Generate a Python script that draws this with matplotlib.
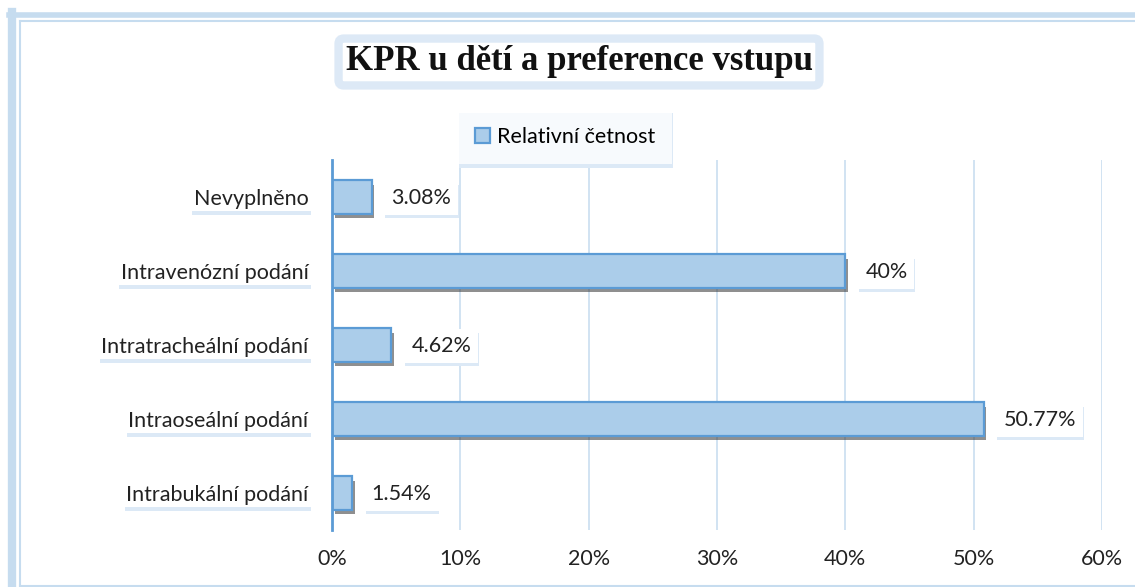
import numpy as np
import matplotlib.pyplot as plt
import matplotlib.patheffects as pe
from matplotlib.patches import Patch
from matplotlib.lines import Line2D
from matplotlib.ticker import FuncFormatter

categories = ["Intrabukální podání", "Intraoseální podání", "Intratracheální podání",
              "Intravenózní podání", "Nevyplněno"]
values = [1.54, 50.77, 4.62, 40.0, 3.08]
value_labels = ["1.54%", "50.77%", "4.62%", "40%", "3.08%"]
xticks = [0, 10, 20, 30, 40, 50, 60]

title = "KPR u dětí a preference vstupu"
series_name = "Relativní četnost"

bar_face = "#abcdea"
bar_edge = "#5b9bd5"
grid_col = "#c9def0"
frame_col = "#c6dcef"
shadow_blue = "#dce9f6"

plt.rcParams['font.family'] = ['Lato', 'DejaVu Sans']

W, H = 1135, 587
fig = plt.figure(figsize=(W / 100, H / 100), dpi=100)


def fx(px):
    return px / W


def fy(py):
    return 1 - py / H


# outer frame: thick band left/top, thin inner line left/top/bottom
fig.add_artist(Line2D([fx(12), fx(12)], [fy(12), 0], transform=fig.transFigure, color=frame_col, lw=6))
fig.add_artist(Line2D([fx(9), 1], [fy(15), fy(15)], transform=fig.transFigure, color=frame_col, lw=4))
fig.add_artist(Line2D([fx(20), fx(20)], [fy(21), fy(586)], transform=fig.transFigure, color=frame_col, lw=1.5))
fig.add_artist(Line2D([fx(20), 1], [fy(21), fy(21)], transform=fig.transFigure, color=frame_col, lw=1.5))
fig.add_artist(Line2D([fx(20), 1], [fy(586), fy(586)], transform=fig.transFigure, color=frame_col, lw=1.5))

ax = fig.add_axes([fx(332), fy(530), 770 / W, 370 / H])
y = np.arange(len(categories))
bars = ax.barh(y, values, height=0.45, color=bar_face, edgecolor=bar_edge, linewidth=1.6, zorder=3)
for b in bars:
    b.set_path_effects([pe.SimplePatchShadow(offset=(2, -3), shadow_rgbFace="#333333", alpha=0.55),
                        pe.Normal()])

ax.set_xlim(0, 60)
ax.set_ylim(-0.5, len(categories) - 0.5)
ax.set_xticks(xticks)
ax.xaxis.set_major_formatter(FuncFormatter(lambda v, p: f"{v:.0f}%"))
ax.set_yticks(y)
ax.set_yticklabels(categories)
ax.tick_params(axis="both", length=0, labelsize=15.5, colors="#222222")
ax.tick_params(axis="y", pad=17)
ax.tick_params(axis="x", pad=14)
ax.grid(axis="x", color=grid_col, linewidth=1.2, zorder=0)
for s in ["top", "right", "bottom"]:
    ax.spines[s].set_visible(False)
ax.spines["left"].set_color(bar_edge)
ax.spines["left"].set_linewidth(2)
ax.spines["left"].set_zorder(4)

for lbl in ax.get_yticklabels():
    lbl.set_bbox(dict(facecolor="white", edgecolor="none", pad=1.5))
    lbl.get_bbox_patch().set_path_effects([
        pe.SimplePatchShadow(offset=(0.5, -2.5), shadow_rgbFace=shadow_blue, alpha=1), pe.Normal()])

for yi, v, t in zip(y, values, value_labels):
    txt = ax.annotate(t, (v, yi), xytext=(20, -1), textcoords="offset pixels",
                      ha="left", va="center", fontsize=15.5, color="#222222", zorder=5,
                      bbox=dict(facecolor="white", edgecolor="none", pad=5))
    txt.get_bbox_patch().set_path_effects([
        pe.SimplePatchShadow(offset=(0.5, -2.5), shadow_rgbFace=shadow_blue, alpha=1), pe.Normal()])

fig.text(fx(579), fy(62), title, ha="center", va="center",
         fontsize=25, fontweight="bold", family=["Liberation Serif", "DejaVu Serif"], color="#111111",
         bbox=dict(boxstyle="round,pad=0.2,rounding_size=0.15", facecolor="white",
                   edgecolor="#dde9f6", linewidth=6))

handle = Patch(facecolor=bar_face, edgecolor=bar_edge, linewidth=1.6)
leg = fig.legend([handle], [series_name], loc="center", bbox_to_anchor=(fx(565), fy(137)),
                 fontsize=15.5, frameon=True, fancybox=False, handlelength=0.7, handleheight=0.7,
                 handletextpad=0.3, borderpad=0.8, borderaxespad=0)
leg.get_frame().set_edgecolor("none")
leg.get_frame().set_facecolor("white")
leg.get_frame().set_path_effects([
    pe.SimplePatchShadow(offset=(0.5, -2.5), shadow_rgbFace=shadow_blue, alpha=1), pe.Normal()])

fig.savefig("out.png", dpi=100)
